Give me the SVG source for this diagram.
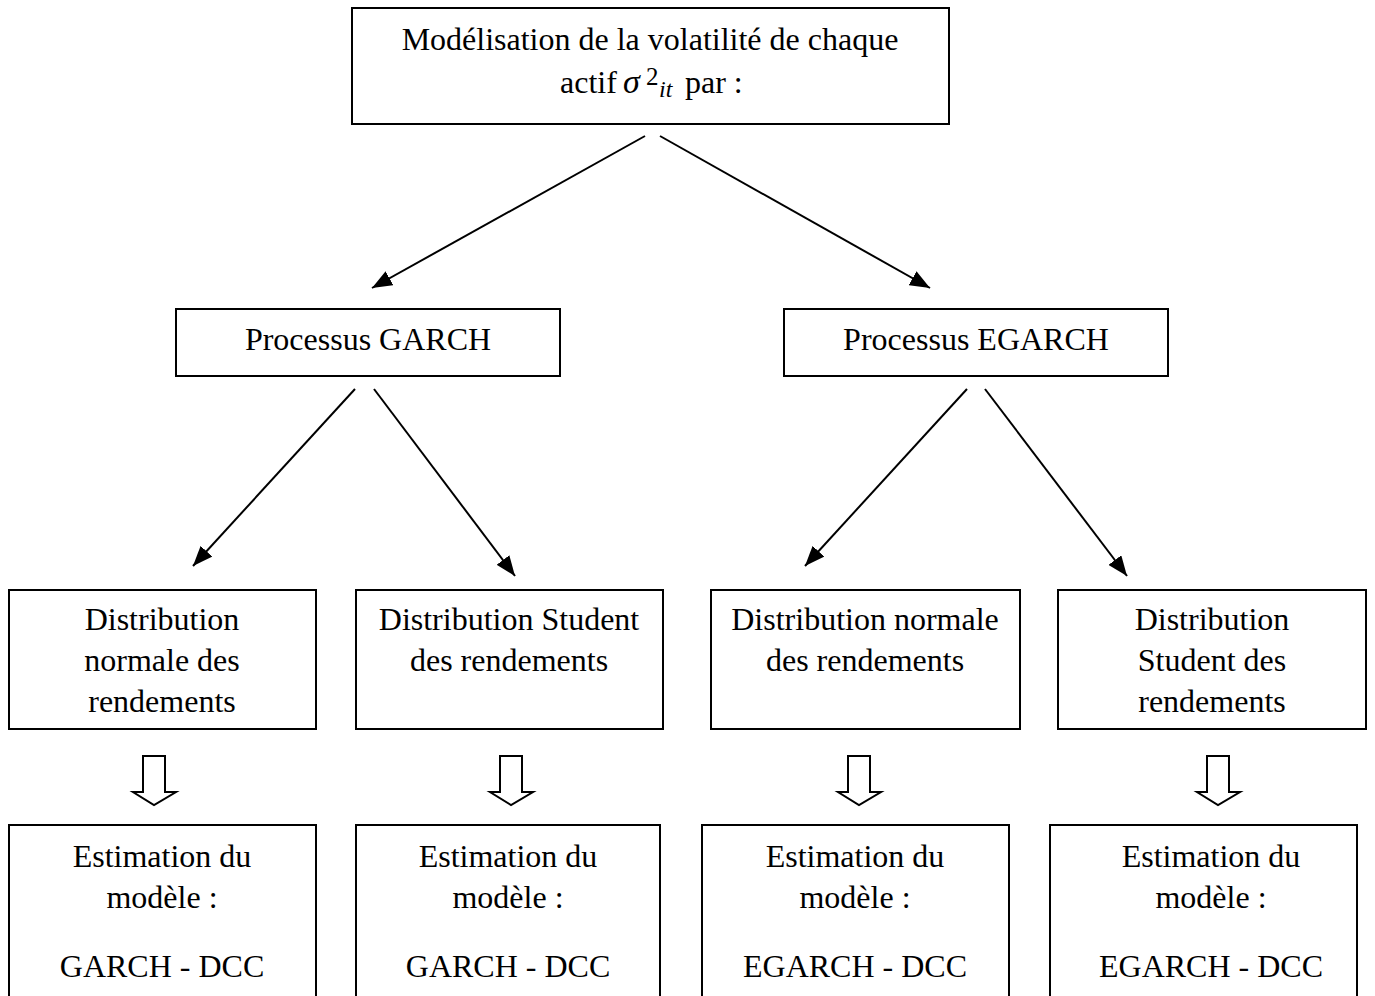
<svg xmlns="http://www.w3.org/2000/svg" width="1375" height="996" viewBox="0 0 1375 996">
<style>
.box{fill:#fff;stroke:#000;stroke-width:2}
.t{font-family:"Liberation Serif","Times New Roman",serif;font-size:32px;fill:#000;text-anchor:middle}
.s{font-family:"Liberation Serif","Times New Roman",serif;fill:#000}
.c{stroke:#000;stroke-width:2;fill:none}
.h{fill:#fff;stroke:#000;stroke-width:2;stroke-linejoin:miter}
</style>
<defs>
<marker id="ah" viewBox="0 0 20 16" refX="20" refY="8" markerWidth="20" markerHeight="16" markerUnits="userSpaceOnUse" orient="auto">
<path d="M0,0 L20,8 L0,16 Z" fill="#000"/>
</marker>
</defs>
<rect width="1375" height="996" fill="#fff"/>
<g id="top">
<rect class="box" x="352" y="8" width="597" height="116"/>
<text class="t" x="650" y="50">Modélisation de la volatilité de chaque</text>
<text class="s" font-size="32" x="560" y="93">actif</text>
<text class="s" font-size="34" font-style="italic" x="623" y="93">σ</text>
<text class="s" font-size="25" x="646" y="85">2</text>
<text class="s" font-size="24" font-style="italic" x="659" y="97">it</text>
<text class="s" font-size="32" x="685" y="93">par :</text>
</g>
<g id="garch">
<rect class="box" x="176" y="309" width="384" height="67"/>
<text class="t" x="368" y="350">Processus GARCH</text>
</g>
<g id="egarch">
<rect class="box" x="784" y="309" width="384" height="67"/>
<text class="t" x="976" y="350">Processus EGARCH</text>
</g>
<g id="d1">
<rect class="box" x="9" y="590" width="307" height="139"/>
<text class="t" x="162" y="630">Distribution</text>
<text class="t" x="162" y="671">normale des</text>
<text class="t" x="162" y="712">rendements</text>
</g>
<g id="d2">
<rect class="box" x="356" y="590" width="307" height="139"/>
<text class="t" x="509" y="630">Distribution Student</text>
<text class="t" x="509" y="671">des rendements</text>
</g>
<g id="d3">
<rect class="box" x="711" y="590" width="309" height="139"/>
<text class="t" x="865" y="630">Distribution normale</text>
<text class="t" x="865" y="671">des rendements</text>
</g>
<g id="d4">
<rect class="box" x="1058" y="590" width="308" height="139"/>
<text class="t" x="1212" y="630">Distribution</text>
<text class="t" x="1212" y="671">Student des</text>
<text class="t" x="1212" y="712">rendements</text>
</g>
<g id="e1">
<rect class="box" x="9" y="825" width="307" height="190"/>
<text class="t" x="162" y="867">Estimation du</text>
<text class="t" x="162" y="908">modèle :</text>
<text class="t" x="162" y="977">GARCH - DCC</text>
</g>
<g id="e2">
<rect class="box" x="356" y="825" width="304" height="190"/>
<text class="t" x="508" y="867">Estimation du</text>
<text class="t" x="508" y="908">modèle :</text>
<text class="t" x="508" y="977">GARCH - DCC</text>
</g>
<g id="e3">
<rect class="box" x="702" y="825" width="307" height="190"/>
<text class="t" x="855" y="867">Estimation du</text>
<text class="t" x="855" y="908">modèle :</text>
<text class="t" x="855" y="977">EGARCH - DCC</text>
</g>
<g id="e4">
<rect class="box" x="1050" y="825" width="307" height="190"/>
<text class="t" x="1211" y="867">Estimation du</text>
<text class="t" x="1211" y="908">modèle :</text>
<text class="t" x="1211" y="977">EGARCH - DCC</text>
</g>
<g id="connectors">
<line class="c" x1="645" y1="136" x2="372" y2="288" marker-end="url(#ah)"/>
<line class="c" x1="660" y1="136" x2="930" y2="288" marker-end="url(#ah)"/>
<line class="c" x1="355" y1="389" x2="193" y2="566" marker-end="url(#ah)"/>
<line class="c" x1="374" y1="389" x2="515" y2="576" marker-end="url(#ah)"/>
<line class="c" x1="967" y1="389" x2="805" y2="566" marker-end="url(#ah)"/>
<line class="c" x1="985" y1="389" x2="1127" y2="576" marker-end="url(#ah)"/>
<path class="h" d="M143,756 H165 V792 H176 L154,805 L133,792 H143 Z"/>
<path class="h" d="M500,756 H522 V792 H533 L511,805 L490,792 H500 Z"/>
<path class="h" d="M848,756 H870 V792 H881 L859,805 L838,792 H848 Z"/>
<path class="h" d="M1207,756 H1229 V792 H1240 L1218,805 L1197,792 H1207 Z"/>
</g>
</svg>
